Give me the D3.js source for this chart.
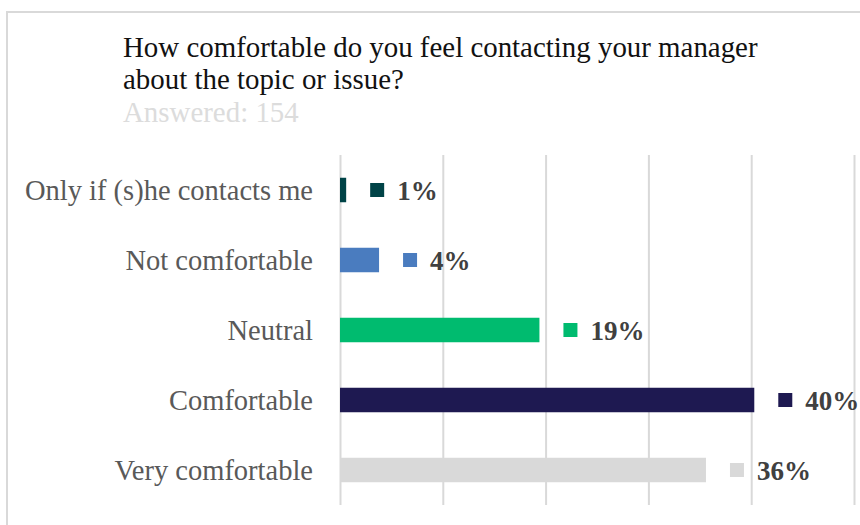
<!DOCTYPE html>
<html>
<head>
<meta charset="utf-8">
<script src="https://cdn.jsdelivr.net/npm/d3@7"></script>
<style>
  html, body { margin: 0; padding: 0; background: #fff; }
  svg { display: block; }
</style>
</head>
<body>
<svg id="chart" width="860" height="525"></svg>
<script>
// Survey responses: share of respondents per answer (percent)
const categories = ["Only if (s)he contacts me", "Not comfortable", "Neutral", "Comfortable", "Very comfortable"];
const shares = [0.6, 3.8, 19.4, 40.3, 35.6];
const colors = ["#004347", "#4a7cbf", "#00bb6f", "#1e1951", "#d9d9d9"];
const gridTicks = [0, 10, 20, 30, 40, 50];
const titleLines = ["How comfortable do you feel contacting your manager", "about the topic or issue?"];
const subtitle = "Answered: 154";

const data = categories.map((c, i) => ({ category: c, value: shares[i], color: colors[i] }));

const svg = d3.select("#chart");
const serif = "'Liberation Serif', 'Times New Roman', serif";

// outer frame
svg.append("rect")
  .attr("x", 7).attr("y", 12)
  .attr("width", 880).attr("height", 540)
  .attr("fill", "none")
  .attr("stroke", "#d9d9d9")
  .attr("stroke-width", 2);

// title block
const title = svg.append("text")
  .attr("font-family", serif)
  .attr("font-size", 28.9)
  .attr("fill", "#111");
titleLines.forEach((line, i) => {
  title.append("tspan").attr("x", 123).attr("y", 57 + i * 32).text(line);
});
svg.append("text")
  .attr("x", 123).attr("y", 122)
  .attr("font-family", serif)
  .attr("font-size", 28.9)
  .attr("fill", "#dcdcdc")
  .text(subtitle);

// scales
const x = d3.scaleLinear().domain([0, 50]).range([340, 854]);
const y = d3.scaleBand().domain(categories).range([155, 505])
  .paddingInner(0.65).paddingOuter(0.325);

// vertical gridlines
const grid = svg.append("g")
  .attr("transform", `translate(0,505)`)
  .call(d3.axisBottom(x).tickValues(gridTicks).tickSize(-350).tickFormat(""));
grid.select(".domain").remove();
grid.selectAll(".tick line").attr("stroke", "#d9d9d9").attr("stroke-width", 2);

// category labels
const yAxis = svg.append("g")
  .attr("transform", "translate(313,0)")
  .call(d3.axisLeft(y).tickSize(0).tickPadding(0));
yAxis.select(".domain").remove();
yAxis.selectAll(".tick text")
  .attr("font-family", serif)
  .attr("font-size", 28.5)
  .attr("fill", "#595959")
  .attr("dy", null)
  .attr("y", 10);

// bars
svg.append("g").selectAll("rect")
  .data(data)
  .join("rect")
  .attr("x", x(0))
  .attr("y", d => y(d.category))
  .attr("width", d => x(d.value) - x(0))
  .attr("height", y.bandwidth())
  .attr("fill", d => d.color);

// value labels with a colour key square
const fmt = d => Math.round(d) + "%";
const labels = svg.append("g").selectAll("g")
  .data(data)
  .join("g")
  .attr("transform", d => `translate(${x(d.value) + 24},${y(d.category) + y.bandwidth() / 2})`);
labels.append("rect")
  .attr("x", 0).attr("y", -7)
  .attr("width", 14).attr("height", 14)
  .attr("fill", d => d.color);
labels.append("text")
  .attr("x", 27).attr("y", 10)
  .attr("font-family", serif)
  .attr("font-weight", "bold")
  .attr("font-size", 27)
  .attr("fill", "#404040")
  .text(d => fmt(d.value));
</script>
</body>
</html>
